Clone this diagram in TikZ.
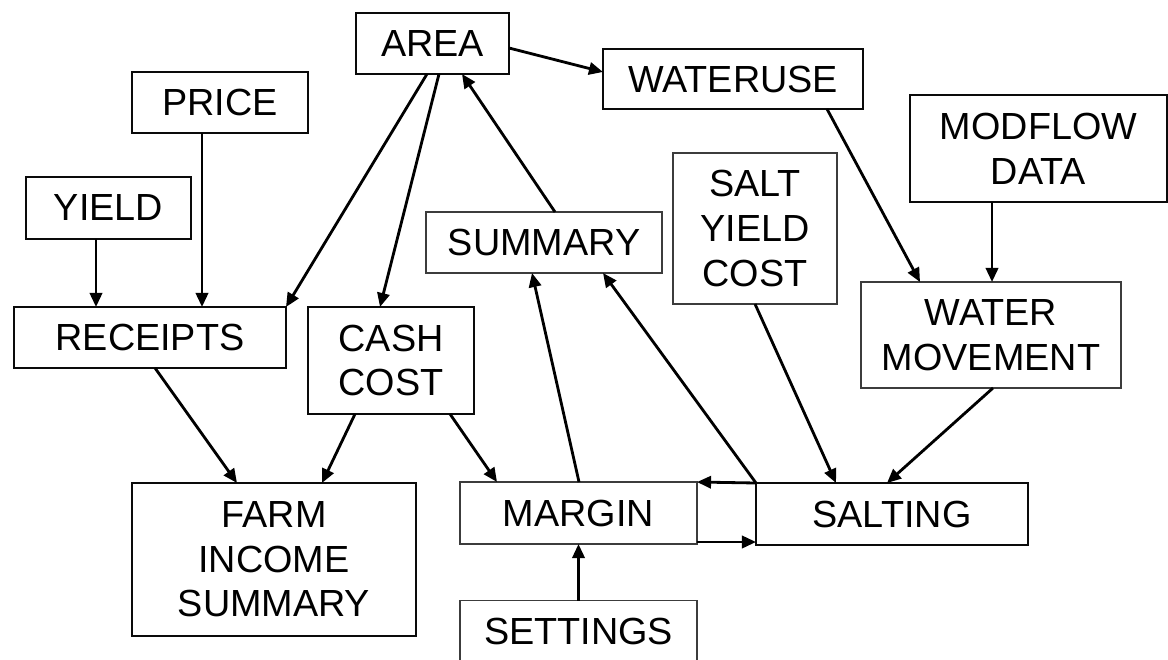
\documentclass[tikz,border=0pt]{standalone}
\usepackage{fontspec}
\setmainfont{Liberation Sans}
\usetikzlibrary{arrows.meta}
\definecolor{heavyline}{RGB}{10, 10, 10}
\definecolor{lightline}{RGB}{60, 60, 60}

\tikzset{
    heavy/.style={draw=heavyline, line width=1.5pt},
    light/.style={draw=lightline, line width=0.7pt},
    flow/.style={line width=1.6pt, -{Triangle[length=8pt, width=7pt]}}
}

\begin{document}
\begin{tikzpicture}[x=0.02cm, y=-0.02cm,
        every node/.style={inner sep=0pt, outer sep=0pt, align=center,
            font=\fontsize{21.5}{25.4}\selectfont}]

        \useasboundingbox (0,0) rectangle (1168,659);
        \clip (0,0) rectangle (1168,659);

        % boxes with a heavy frame: name / centre x / centre y / width / height / label
        \foreach \name/\cx/\cy/\w/\h/\txt in {
                        area/432.5/43.5/153/61/AREA, wateruse/733/79/260/60/WATERUSE,
                        price/220/102.5/176/61/PRICE, modflow/1038.5/148.5/257/107/MODFLOW\\DATA,
                        yield/108.5/208/165/62/YIELD, receipts/150/337.5/272/61/RECEIPTS,
                        cash/391/360.5/166/107/CASH\\COST, farm/274/559.5/284/153/FARM\\INCOME\\SUMMARY,
                        salting/892/514/272/62/SALTING} {
            \node[heavy, minimum width=\w*0.02cm, minimum height=\h*0.02cm] (\name) at (\cx,\cy) {\txt};
        }

        % boxes with a light frame (settings runs off the bottom edge)
        \foreach \name/\cx/\cy/\w/\h/\txt in {
                        salt/755/228.5/164/151/SALT\\YIELD\\COST, summary/544/242.5/236/61/SUMMARY,
                        watermove/991/335/260/106/WATER\\MOVEMENT, margin/578.5/513/237/62/MARGIN,
                        settings/578.5/631/237/61/SETTINGS} {
            \node[light, minimum width=\w*0.02cm, minimum height=\h*0.02cm] (\name) at (\cx,\cy) {\txt};
        }

        % connectors leaving area, and back into it
        \draw[flow] (area.east |- 0,48) -- (wateruse.west |- 0,72);
        \draw[flow] (area.south -| 427,0) -- (receipts.north east);
        \draw[flow] (area.south -| 439,0) -- (cash.north -| 380,0);
        \draw[flow] (summary.north -| 555,0) -- (area.south -| 462,0);

        % inputs of receipts, and what feeds the farm income summary
        \draw[flow] (price.south -| 202,0) -- (receipts.north -| 202,0);
        \draw[flow] (yield.south -| 96,0) -- (receipts.north -| 96,0);
        \draw[flow] (receipts.south -| 155,0) -- (farm.north -| 237,0);
        \draw[flow] (cash.south -| 355,0) -- (farm.north -| 322,0);
        \draw[flow] (cash.south -| 450,0) -- (margin.north -| 497,0);

        % water side
        \draw[flow] (wateruse.south -| 827,0) -- (watermove.north -| 920,0);
        \draw[flow] (modflow.south -| 992,0) -- (watermove.north -| 992,0);
        \draw[flow] (watermove.south -| 993,0) -- (salting.north -| 887,0);
        \draw[flow] (salt.south) -- (salting.north -| 836,0);

        % margin, salting and summary
        \draw[flow] (salting.north west) -- (summary.south -| 603,0);
        \draw[flow] (margin.north -| 579,0) -- (summary.south -| 532,0);
        \draw[flow] (salting.north west) -- (margin.north east);
        \draw[flow] (margin.south east |- 0,542) -- (salting.south west |- 0,542);
        \draw[flow] (settings.north) -- (margin.south);
    \end{tikzpicture}
\end{document}
